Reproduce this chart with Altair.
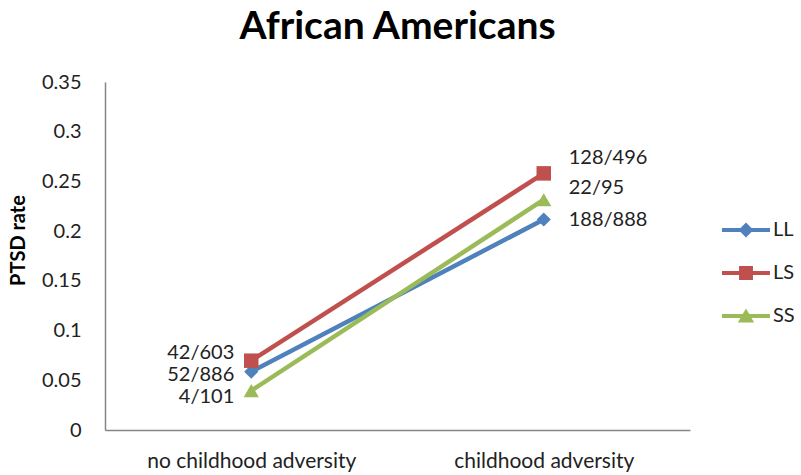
import altair as alt
import pandas as pd

# ---- data ----
categories = ["no childhood adversity", "childhood adversity"]
series = ["LL", "LS", "SS"]
ll_values = [0.0587, 0.2117]
ls_values = [0.0697, 0.2581]
ss_values = [0.0396, 0.2316]
ll_labels = ["52/886", "188/888"]
ls_labels = ["42/603", "128/496"]
ss_labels = ["4/101", "22/95"]

colors = ["#4F81BD", "#C0504D", "#9BBB59"]
FONT = "Lato"
color_of = dict(zip(series, colors))

rows = []
for s, vals, labs in [("LL", ll_values, ll_labels), ("LS", ls_values, ls_labels), ("SS", ss_values, ss_labels)]:
    for c, v, l in zip(categories, vals, labs):
        rows.append({"series": s, "category": c, "rate": v, "label": l})
df = pd.DataFrame(rows)

x_enc = alt.X("category:N", sort=categories,
              scale=alt.Scale(type="point", padding=0.5),
              axis=alt.Axis(title=None, labelAngle=0, labelFontSize=21, labelFont=FONT,
                            labelColor="#222222", labelPadding=20, ticks=False, labelLimit=400,
                            domainColor="#868686", domainWidth=1.5, grid=False))
y_enc = alt.Y("rate:Q", scale=alt.Scale(domain=[0, 0.35], nice=False),
              axis=alt.Axis(title="PTSD rate", values=[0, 0.05, 0.1, 0.15, 0.2, 0.25, 0.3, 0.35],
                            format="~g", labelFontSize=20, labelFont=FONT, labelColor="#222222",
                            labelPadding=24, ticks=False, grid=False,
                            domainColor="#868686", domainWidth=1.5,
                            titleFont=FONT, titleFontSize=20, titleFontWeight="bold",
                            titleColor="#000000", titlePadding=13, titleY=158))

base = alt.Chart(df)

marker_shapes = {"LL": "diamond", "LS": "square", "SS": "triangle-up"}
marker_sizes = {"LL": 200, "LS": 210, "SS": 230}

line_layers = []
point_layers = []
for s in series:
    sub = base.transform_filter(alt.datum.series == s)
    line_layers.append(
        sub.mark_line(strokeWidth=4.5, color=color_of[s]).encode(x=x_enc, y=y_enc)
    )
    point_layers.append(
        sub.mark_point(filled=True, opacity=1, shape=marker_shapes[s],
                       size=marker_sizes[s], color=color_of[s]).encode(x=x_enc, y=y_enc)
    )

# legend carrier: zero-size points, legend symbols are line + marker paths
legend_paths = [
    "M-2,-0.17H2V0.17H-2Z M0,-0.62L0.62,0L0,0.62L-0.62,0Z",
    "M-2,-0.17H2V0.17H-2Z M-0.58,-0.58H0.58V0.58H-0.58Z",
    "M-2,-0.17H2V0.17H-2Z M0,-0.62L0.68,0.55H-0.68Z",
]
legend_cfg = alt.Legend(orient="none", legendX=629, legendY=136, title=None,
                        symbolSize=576, symbolOpacity=1, symbolStrokeWidth=0,
                        labelOffset=15, rowPadding=21,
                        labelFont=FONT, labelFontSize=20, labelColor="#222222")
legend_layer = base.mark_point(filled=True, size=0).encode(
    x=x_enc, y=y_enc,
    fill=alt.Fill("series:N", scale=alt.Scale(domain=series, range=colors), legend=legend_cfg),
    shape=alt.Shape("series:N", scale=alt.Scale(domain=series, range=legend_paths), legend=legend_cfg),
)

label_offsets = {
    ("LS", categories[0]): (-17, -8, "right"),
    ("LL", categories[0]): (-17, 3, "right"),
    ("SS", categories[0]): (-17, 6, "right"),
    ("LS", categories[1]): (25, -15, "left"),
    ("SS", categories[1]): (25, -12, "left"),
    ("LL", categories[1]): (25, 0, "left"),
}
text_layers = []
for (s, c), (dx, dy, al) in label_offsets.items():
    text_layers.append(
        base.transform_filter((alt.datum.series == s) & (alt.datum.category == c)).mark_text(
            dx=dx, dy=dy, align=al, baseline="middle", font=FONT, fontSize=20, color="#222222"
        ).encode(x=x_enc, y=y_enc, text="label:N")
    )

chart = alt.layer(*line_layers, *point_layers, legend_layer, *text_layers).properties(
    width=585, height=348,
    background="white",
    title=alt.TitleParams("African Americans", font=FONT, fontSize=39, fontWeight="bold",
                          color="#000000", anchor="middle", offset=25),
    padding={"left": 105, "top": 82, "right": 111, "bottom": 45},
    autosize=alt.AutoSizeParams(type="none"),
).configure_view(strokeWidth=0, stroke="transparent")

chart.save("out.html", embed_options={"renderer": "svg", "actions": False})
